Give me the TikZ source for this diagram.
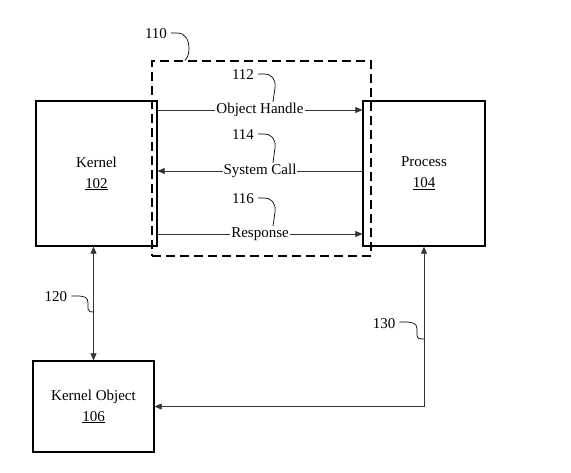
\documentclass[tikz,border=0pt]{standalone}
\usepackage{fontspec}
\setmainfont{Liberation Serif}
\usetikzlibrary{arrows.meta}
\begin{document}
\begin{tikzpicture}[x=1pt,y=-1pt,
  font=\fontsize{15}{21}\selectfont,
  box/.style={draw, line width=1.3pt, inner sep=0pt, align=center},
  grp/.style={draw, line width=1.3pt, dash pattern=on 9pt off 5pt, inner sep=0pt},
  conn/.style={draw=black!80, line width=0.7pt},
  tipend/.style={-{Triangle[length=7pt,width=6pt]}},
  tipboth/.style={{Triangle[length=7pt,width=6pt]}-{Triangle[length=7pt,width=6pt]}},
  lbl/.style={fill=white, inner sep=1pt},
  refn/.style={inner sep=1pt},
  lead/.style={draw, line width=0.7pt}]
\useasboundingbox (0,0) rectangle (571,472);
% boxes
\node[box, minimum width=121pt, minimum height=145pt] (kernel) at (96.5,173.5) {Kernel\\\underline{102}};
\node[box, minimum width=122pt, minimum height=145pt] (proc) at (424,173.5) {Process\\\underline{104}};
\node[box, minimum width=121pt, minimum height=91pt] (kobj) at (93.5,406.5) {Kernel Object\\\underline{106}};
\node[grp, minimum width=219pt, minimum height=195pt] (group) at (261.5,158.5) {};
% horizontal messages
\coordinate (ohA) at (157,110); \coordinate (ohB) at (363,110);
\coordinate (scA) at (157,171); \coordinate (scB) at (363,171);
\coordinate (rsA) at (157,234); \coordinate (rsB) at (363,234);
\draw[conn, tipend] (kernel.east |- ohA) -- node[lbl] (oh) {Object Handle} (proc.west |- ohB);
\draw[conn, tipend] (proc.west |- scB) -- node[lbl] (sc) {System Call} (kernel.east |- scA);
\draw[conn, tipend] (kernel.east |- rsA) -- node[lbl] (rs) {Response} (proc.west |- rsB);
% vertical / elbow connectors
\draw[conn, tipboth] (kernel.south -| kobj.north) -- (kobj.north);
\draw[conn, tipboth] (kobj.east) -| (proc.south);
% reference numerals
\node[refn] (n110) at (156,34) {110};
\node[refn] (n112) at (243,75) {112};
\node[refn] (n114) at (243,135) {114};
\node[refn] (n116) at (243,199) {116};
\node[refn] (n120) at (56,297) {120};
\node[refn] (n130) at (384,324) {130};
% leaders
\draw[lead] (n110.east) ++(3,-1) -- ++(6,0) .. controls +(9,0) and +(0,-8) .. (189,49) .. controls (189,55) and (187,58) .. (group.north -| 185,0);
\draw[lead] (n112.east) ++(3,-1) -- ++(6,0) .. controls +(8,0) and +(1,-8) .. (275,88) -- (oh.north -| 273,0);
\draw[lead] (n114.east) ++(3,-1) -- ++(6,0) .. controls +(8,0) and +(1,-8) .. (275,148) -- (sc.north -| 273,0);
\draw[lead] (n116.east) ++(3,-1) -- ++(6,0) .. controls +(8,0) and +(1,-8) .. (275,212) -- (rs.north -| 273,0);
\draw[lead] (n120.east) ++(3,-1) -- ++(5,0) .. controls +(8,0) and +(0,-6) .. (88,303) -- (88,309) .. controls (88,312) and (91,312) .. (kobj.north |- 0,312);
\draw[lead] (n130.east) ++(3,-2) -- ++(5,0) .. controls +(8,0) and +(0,-6) .. (417,329) -- (417,335) .. controls (417,339) and (420,339) .. (proc.south |- 0,339);
\end{tikzpicture}
\end{document}
